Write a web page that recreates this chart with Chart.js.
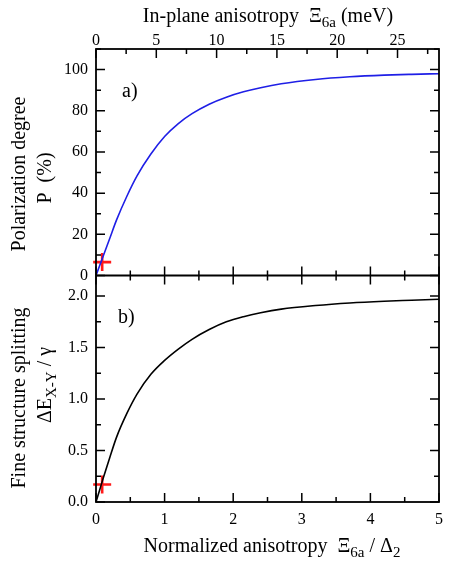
<!DOCTYPE html>
<html>
<head>
<meta charset="utf-8">
<script src="https://cdn.jsdelivr.net/npm/chart.js@4.4.0/dist/chart.umd.min.js"></script>
<style>
  html, body { margin: 0; padding: 0; background: #fff; }
  #wrap { position: relative; width: 451px; height: 565px; font-family: 'Liberation Serif', 'Times New Roman', serif; color: #000; }
  #wrap canvas { position: absolute; left: 0; top: 0; }
  .lbl { position: absolute; white-space: nowrap; font-size: 20px; line-height: 1; transform: translate(-50%, -50%); }
  .rot { transform: translate(-50%, -50%) rotate(-90deg); }
  .lbl sub { font-size: 15px; vertical-align: -5px; line-height: 0; }
  .tag { position: absolute; font-size: 20px; line-height: 1; }
</style>
</head>
<body>
<div id="wrap">
  <canvas id="chart" width="451" height="565"></canvas>
  <div class="lbl" style="left:268px;top:15px">In-plane anisotropy&nbsp; &Xi;<sub>6a</sub> (meV)</div>
  <div class="lbl" style="left:272px;top:545px">Normalized anisotropy&nbsp; &Xi;<sub>6a</sub> / &Delta;<sub>2</sub></div>
  <div class="lbl rot" style="left:18px;top:174px">Polarization degree</div>
  <div class="lbl rot" style="left:44px;top:178px">P&nbsp; (%)</div>
  <div class="lbl rot" style="left:18px;top:398px">Fine structure splitting</div>
  <div class="lbl rot" style="left:44px;top:385px">&Delta;E<sub>X-Y</sub> / &gamma;</div>
  <div class="tag" style="left:122px;top:80px">a)</div>
  <div class="tag" style="left:118px;top:306px">b)</div>
</div>
<script>
// normalized anisotropy (Xi_6a / Delta_2) sampled along both curves
const xNorm = [0, 0.05, 0.1, 0.2, 0.3, 0.45, 0.6, 0.8, 1.0, 1.2, 1.4, 1.65, 1.9, 2.15, 2.4, 2.7, 3.2, 3.7, 4.2, 4.6, 5.0];
// a) polarization degree, %
const polarization = [0, 4.5, 9, 18, 27, 38.5, 48.5, 59, 67.5, 73.8, 78.6, 83.2, 86.6, 89.2, 91.2, 93.1, 95.2, 96.5, 97.3, 97.7, 98.0];
// b) fine structure splitting, dE / gamma
const splitting = [0, 0.11, 0.22, 0.43, 0.63, 0.86, 1.05, 1.24, 1.375, 1.485, 1.58, 1.675, 1.75, 1.80, 1.838, 1.873, 1.908, 1.933, 1.95, 1.96, 1.97];
// experimental point (red cross)
const expX = [0.09];
const expP = [6.5];
const expS = [0.17];
// top axis in meV: 5 normalized units correspond to this many meV
const meVMax = 28.44;

const FONT = { family: "'Liberation Serif', 'Times New Roman', serif", size: 16 };
const NOGRID = { display: false, drawTicks: false };

// inward tick marks + frame, like the original plot
const frame = {
  id: 'frame',
  afterDraw(chart) {
    const ctx = chart.ctx;
    const a = chart.chartArea;
    const x = chart.scales.x, xt = chart.scales.xTop;
    const yP = chart.scales.yP, yS = chart.scales.yS;
    const mid = yP.bottom;
    const MAJ = 9, MIN = 5;
    ctx.save();
    ctx.strokeStyle = '#000';
    ctx.lineWidth = 1.5;
    ctx.beginPath();
    const tickV = (px, y0, dir, len) => { ctx.moveTo(px, y0); ctx.lineTo(px, y0 + dir * len); };
    const tickH = (py, x0, dir, len) => { ctx.moveTo(x0, py); ctx.lineTo(x0 + dir * len, py); };
    // bottom axis ticks (0.5 steps): bottom edge, and both sides of the middle line
    for (let v = 0; v <= 5.0001; v += 0.5) {
      const px = x.getPixelForValue(v);
      const len = Math.abs(v - Math.round(v)) < 1e-6 ? MAJ : MIN;
      tickV(px, a.bottom, -1, len);
      tickV(px, mid, -1, len);
      tickV(px, mid, 1, len);
    }
    // top meV axis ticks (2.5 steps)
    for (let v = 0; v <= meVMax; v += 2.5) {
      const px = xt.getPixelForValue(v);
      tickV(px, a.top, 1, v % 5 === 0 ? MAJ : MIN);
    }
    // panel a) y ticks (10 steps)
    for (let v = 0; v <= 110; v += 10) {
      const py = yP.getPixelForValue(v);
      const len = v % 20 === 0 ? MAJ : MIN;
      tickH(py, a.left, 1, len);
      tickH(py, a.right, -1, len);
    }
    // panel b) y ticks (0.25 steps)
    for (let i = 0; i <= 8; i++) {
      const v = i * 0.25;
      const py = yS.getPixelForValue(v);
      const len = i % 2 === 0 ? MAJ : MIN;
      tickH(py, a.left, 1, len);
      tickH(py, a.right, -1, len);
    }
    ctx.stroke();
    ctx.lineWidth = 1.8;
    ctx.strokeRect(a.left, a.top, a.right - a.left, a.bottom - a.top);
    ctx.beginPath();
    ctx.moveTo(a.left, mid);
    ctx.lineTo(a.right, mid);
    ctx.stroke();
    ctx.restore();
  }
};

const pts = (xs, ys) => xs.map((v, i) => ({ x: v, y: ys[i] }));

new Chart(document.getElementById('chart'), {
  type: 'line',
  data: {
    datasets: [
      { data: pts(xNorm, polarization), yAxisID: 'yP', borderColor: '#1f1fe6', borderWidth: 1.6,
        pointRadius: 0, cubicInterpolationMode: 'monotone', fill: false },
      { data: pts(xNorm, splitting), yAxisID: 'yS', borderColor: '#000', borderWidth: 1.6,
        pointRadius: 0, cubicInterpolationMode: 'monotone', fill: false },
      { data: pts(expX, expP), yAxisID: 'yP', showLine: false, pointStyle: 'cross',
        pointRadius: 9, borderColor: '#ff1a1a', borderWidth: 2.6, clip: false },
      { data: pts(expX, expS), yAxisID: 'yS', showLine: false, pointStyle: 'cross',
        pointRadius: 9, borderColor: '#ff1a1a', borderWidth: 2.6, clip: false }
    ]
  },
  options: {
    responsive: false,
    animation: false,
    layout: { padding: { left: 0, right: 10, top: 0, bottom: 0 } },
    plugins: { legend: { display: false }, tooltip: { enabled: false } },
    scales: {
      x: {
        type: 'linear', position: 'bottom', min: 0, max: 5,
        grid: NOGRID, border: { display: false },
        ticks: { stepSize: 1, color: '#000', font: FONT, padding: 8, maxRotation: 0, includeBounds: false },
        afterFit: s => { s.height = 63; }
      },
      xTop: {
        type: 'linear', position: 'top', min: 0, max: meVMax,
        grid: NOGRID, border: { display: false },
        ticks: { stepSize: 5, color: '#000', font: FONT, padding: -1, maxRotation: 0, includeBounds: false,
          autoSkip: false, callback: v => (v % 5 === 0 ? v : null) },
        afterFit: s => { s.height = 49; }
      },
      yS: {
        type: 'linear', position: 'left', stack: 'panels', stackWeight: 1, min: 0, max: 2.2,
        grid: NOGRID, border: { display: false },
        ticks: { stepSize: 0.5, color: '#000', font: FONT, padding: 8, includeBounds: false, autoSkip: false,
          callback: v => (v <= 2.0001 ? v.toFixed(1) : null) },
        afterFit: s => { s.width = 96; }
      },
      yP: {
        type: 'linear', position: 'left', stack: 'panels', stackWeight: 1, min: 0, max: 110,
        grid: NOGRID, border: { display: false },
        ticks: { stepSize: 20, color: '#000', font: FONT, padding: 8, includeBounds: false, autoSkip: false,
          callback: v => (v <= 100 ? v : null) },
        afterFit: s => { s.width = 96; }
      }
    }
  },
  plugins: [frame]
});
</script>
</body>
</html>
